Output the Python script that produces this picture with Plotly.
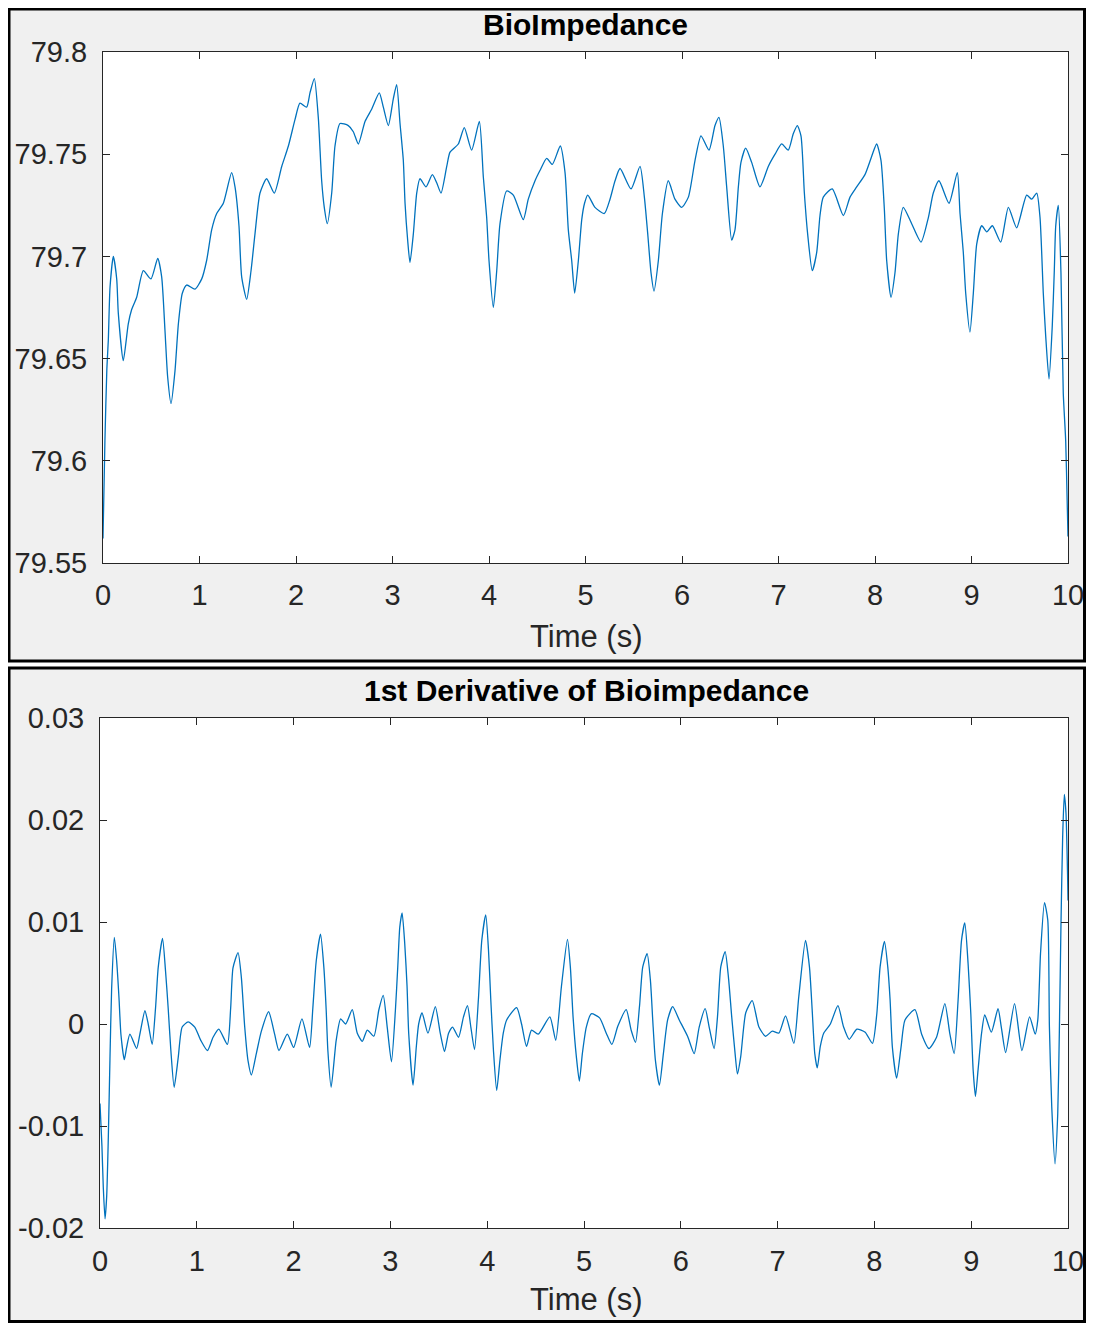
import plotly.graph_objects as go

# ---------------- data ----------------
bio_t = [0.0, 0.02, 0.04, 0.055, 0.073, 0.107, 0.142, 0.159, 0.21, 0.262, 0.297, 0.349, 0.418, 0.497, 0.567,
         0.608, 0.642, 0.670, 0.705, 0.746, 0.781, 0.822, 0.867, 0.953, 1.023, 1.074, 1.126, 1.178, 1.247,
         1.333, 1.368, 1.409, 1.437, 1.489, 1.534, 1.575, 1.627, 1.696, 1.775, 1.852, 1.921, 1.99, 2.041,
         2.11, 2.145, 2.19, 2.231, 2.266, 2.293, 2.324, 2.37, 2.404, 2.456, 2.542, 2.594, 2.646, 2.715,
         2.784, 2.863, 2.905, 2.957, 3.008, 3.043, 3.078, 3.112, 3.13, 3.157, 3.181, 3.216, 3.251, 3.285,
         3.347, 3.413, 3.458, 3.503, 3.562, 3.596, 3.682, 3.744, 3.82, 3.9, 3.941, 3.976, 4.0, 4.045, 4.08,
         4.114, 4.183, 4.252, 4.355, 4.407, 4.477, 4.528, 4.598, 4.656, 4.739, 4.788, 4.822, 4.857, 4.888,
         4.926, 4.961, 4.99, 5.023, 5.098, 5.195, 5.254, 5.306, 5.358, 5.472, 5.565, 5.61, 5.645, 5.679,
         5.71, 5.755, 5.797, 5.858, 5.927, 5.997, 6.066, 6.135, 6.197, 6.28, 6.342, 6.383, 6.428, 6.463,
         6.515, 6.549, 6.584, 6.611, 6.66, 6.722, 6.808, 6.894, 6.964, 7.033, 7.101, 7.153, 7.195, 7.233,
         7.268, 7.302, 7.35, 7.396, 7.43, 7.464, 7.557, 7.672, 7.741, 7.81, 7.896, 7.966, 8.017, 8.062,
         8.097, 8.121, 8.166, 8.207, 8.242, 8.293, 8.38, 8.477, 8.553, 8.604, 8.663, 8.767, 8.853, 8.881,
         8.915, 8.94, 8.984, 9.019, 9.054, 9.106, 9.158, 9.216, 9.303, 9.382, 9.468, 9.572, 9.624, 9.676,
         9.71, 9.744, 9.769, 9.803, 9.837, 9.858, 9.873, 9.9, 9.927, 9.951, 9.976, 9.992, 10.0]
bio_z = [79.562, 79.61, 79.645, 79.659, 79.685, 79.700, 79.689, 79.672, 79.649, 79.667, 79.674, 79.680, 79.693,
         79.689, 79.699, 79.690, 79.664, 79.641, 79.628, 79.644, 79.667, 79.682, 79.686, 79.684, 79.689,
         79.698, 79.713, 79.721, 79.726, 79.741, 79.734, 79.715, 79.690, 79.679, 79.693, 79.711, 79.731,
         79.738, 79.731, 79.744, 79.754, 79.767, 79.775, 79.773, 79.780, 79.787, 79.768, 79.737, 79.724,
         79.716, 79.731, 79.754, 79.765, 79.764, 79.761, 79.755, 79.766, 79.772, 79.780, 79.773, 79.764,
         79.777, 79.784, 79.765, 79.747, 79.726, 79.708, 79.697, 79.711, 79.731, 79.738, 79.734, 79.740,
         79.736, 79.731, 79.744, 79.751, 79.755, 79.763, 79.752, 79.766, 79.739, 79.719, 79.698, 79.675,
         79.693, 79.716, 79.732, 79.730, 79.718, 79.728, 79.737, 79.742, 79.748, 79.745, 79.754, 79.741,
         79.713, 79.698, 79.682, 79.698, 79.718, 79.726, 79.730, 79.724, 79.721, 79.728, 79.737, 79.743,
         79.733, 79.744, 79.729, 79.711, 79.692, 79.683, 79.698, 79.721, 79.737, 79.728, 79.724, 79.729,
         79.747, 79.759, 79.752, 79.764, 79.768, 79.754, 79.734, 79.708, 79.713, 79.734, 79.746, 79.753,
         79.746, 79.734, 79.744, 79.750, 79.755, 79.752, 79.760, 79.764, 79.759, 79.731, 79.711, 79.693,
         79.702, 79.720, 79.729, 79.733, 79.720, 79.729, 79.734, 79.740, 79.749, 79.755, 79.747, 79.723,
         79.698, 79.680, 79.692, 79.711, 79.724, 79.716, 79.707, 79.719, 79.731, 79.737, 79.726, 79.741,
         79.721, 79.702, 79.682, 79.663, 79.682, 79.706, 79.715, 79.712, 79.715, 79.707, 79.724, 79.714,
         79.730, 79.728, 79.731, 79.719, 79.682, 79.661, 79.640, 79.666, 79.693, 79.715, 79.725, 79.692,
         79.633, 79.610, 79.579, 79.563]

der_t = [0.0, 0.02, 0.034, 0.052, 0.069, 0.086, 0.103, 0.12, 0.148, 0.172, 0.196, 0.216, 0.251, 0.275, 0.309,
         0.378, 0.412, 0.464, 0.498, 0.539, 0.574, 0.601, 0.646, 0.677, 0.704, 0.732, 0.766, 0.808, 0.849,
         0.911, 0.979, 1.041, 1.11, 1.168, 1.227, 1.316, 1.35, 1.374, 1.426, 1.46, 1.495, 1.529, 1.564,
         1.615, 1.667, 1.742, 1.804, 1.849, 1.935, 2.0, 2.086, 2.165, 2.199, 2.234, 2.278, 2.313, 2.337,
         2.354, 2.388, 2.44, 2.486, 2.538, 2.606, 2.658, 2.71, 2.761, 2.829, 2.881, 2.926, 2.967, 3.011,
         3.052, 3.076, 3.097, 3.121, 3.148, 3.172, 3.189, 3.234, 3.268, 3.292, 3.327, 3.388, 3.464, 3.515,
         3.559, 3.601, 3.642, 3.704, 3.755, 3.796, 3.831, 3.869, 3.909, 3.944, 3.985, 4.013, 4.037, 4.064,
         4.098, 4.132, 4.166, 4.201, 4.304, 4.355, 4.406, 4.458, 4.527, 4.647, 4.708, 4.767, 4.829, 4.859,
         4.887, 4.921, 4.952, 4.983, 5.024, 5.075, 5.161, 5.23, 5.288, 5.35, 5.436, 5.487, 5.532, 5.573,
         5.607, 5.652, 5.686, 5.71, 5.737, 5.779, 5.82, 5.864, 5.916, 5.984, 6.07, 6.138, 6.19, 6.252,
         6.293, 6.344, 6.379, 6.413, 6.458, 6.492, 6.526, 6.561, 6.585, 6.619, 6.671, 6.738, 6.807, 6.876,
         6.945, 7.013, 7.082, 7.168, 7.219, 7.288, 7.329, 7.357, 7.384, 7.41, 7.441, 7.476, 7.545, 7.623,
         7.682, 7.74, 7.819, 7.905, 7.98, 8.025, 8.059, 8.104, 8.138, 8.162, 8.186, 8.23, 8.275, 8.316,
         8.419, 8.488, 8.563, 8.642, 8.728, 8.78, 8.824, 8.865, 8.9, 8.934, 8.968, 8.996, 9.02, 9.044,
         9.071, 9.106, 9.14, 9.208, 9.277, 9.311, 9.356, 9.448, 9.524, 9.603, 9.661, 9.688, 9.716, 9.757,
         9.791, 9.808, 9.832, 9.866, 9.894, 9.911, 9.928, 9.945, 9.962, 9.979, 9.996, 10.0]
der_v = [-0.0078, -0.012, -0.016, -0.0191, -0.0169, -0.0111, -0.0034, 0.0034, 0.0085, 0.0062, 0.0026, -0.001,
         -0.0035, -0.0023, -0.001, -0.0024, -0.001, 0.0013, 0.0, -0.002, 0.0016, 0.0055, 0.0084, 0.0052,
         0.0016, -0.0026, -0.0062, -0.0033, -0.0003, 0.0002, -0.0003, -0.0016, -0.0026, -0.0013, -0.0005,
         -0.002, 0.0016, 0.0055, 0.007, 0.0046, -0.0003, -0.0036, -0.005, -0.0029, -0.0007, 0.0012, -0.001,
         -0.0026, -0.001, -0.0023, 0.0005, -0.0023, 0.0016, 0.0062, 0.0088, 0.0055, 0.0013, -0.0026, -0.0062,
         -0.0016, 0.0005, 0.0, 0.0014, -0.0009, -0.0017, -0.0006, -0.0012, 0.0014, 0.0028, -0.0003, -0.0037,
         0.0014, 0.0056, 0.0095, 0.0109, 0.0079, 0.0037, -0.0009, -0.006, -0.0022, 0.0, 0.0011, -0.0009,
         0.0017, -0.0009, -0.0027, -0.0009, -0.0003, -0.0013, 0.0007, 0.0018, -0.0003, -0.0025, 0.0024,
         0.0082, 0.0107, 0.0073, 0.0024, -0.0025, -0.0065, -0.0035, -0.0009, 0.0004, 0.0016, 0.0, -0.0022,
         -0.0006, -0.001, 0.0007, -0.0016, 0.0037, 0.0083, 0.0056, 0.0007, -0.0032, -0.0056, -0.0029, -0.0003,
         0.001, 0.0006, -0.0009, -0.002, -0.0002, 0.0014, -0.0006, -0.0018, 0.0017, 0.0056, 0.0069, 0.0043,
         0.0004, -0.0035, -0.006, -0.0029, 0.0004, 0.0017, 0.0004, -0.0012, -0.0029, -0.0003, 0.0015, -0.0003,
         -0.0024, 0.0007, 0.0056, 0.0071, 0.0046, 0.0007, -0.0029, -0.0049, -0.0032, 0.0011, 0.0023, -0.0003,
         -0.0012, -0.0007, -0.0009, 0.0008, -0.0019, 0.0027, 0.0082, 0.0056, 0.0014, -0.0029, -0.0043,
         -0.0022, -0.0009, 0.0, 0.0018, -0.0003, -0.0015, -0.0005, -0.0008, -0.0019, 0.001, 0.0056, 0.0081,
         0.0056, 0.0024, -0.0023, -0.0053, -0.0023, 0.0004, 0.0014, -0.001, -0.0024, -0.0013, 0.002, -0.001,
         -0.0029, 0.0024, 0.0082, 0.0099, 0.0059, 0.001, -0.0045, -0.0071, -0.0045, -0.001, 0.0009, -0.0008,
         0.0015, -0.0003, -0.0028, 0.002, -0.0026, 0.0007, -0.001, 0.0004, 0.0069, 0.0119, 0.0102, -0.0003,
         -0.0081, -0.0137, -0.0088, -0.0006, 0.0101, 0.0184, 0.0225, 0.0207, 0.0144, 0.0121]

x_ticks = [0, 1, 2, 3, 4, 5, 6, 7, 8, 9, 10]
bio_yticks = [79.55, 79.6, 79.65, 79.7, 79.75, 79.8]
bio_ytext = ["79.55", "79.6", "79.65", "79.7", "79.75", "79.8"]
der_yticks = [-0.02, -0.01, 0, 0.01, 0.02, 0.03]
der_ytext = ["-0.02", "-0.01", "0", "0.01", "0.02", "0.03"]

title_top = "BioImpedance"
title_bottom = "1st Derivative of Bioimpedance"
xlabel = "Time (s)"

# ---------------- layout helpers (page pixel -> paper) ----------------
# the html body adds an 8 px margin on every side; size the figure so the page does not scroll
OFF = 8
W, H = 1094 - 2 * OFF, 1331 - 2 * OFF
def px(x):
    return (x - OFF) / W
def py(y):
    return 1 - (y - OFF) / H

LINE = "#0072BD"
AX = "#262626"
FONT = "Liberation Sans, Arial, Helvetica, sans-serif"

fig = go.Figure()
fig.add_trace(go.Scatter(x=bio_t, y=bio_z, mode="lines", line=dict(color=LINE, width=1.3, shape="spline", smoothing=0.6),
                         xaxis="x", yaxis="y", showlegend=False))
fig.add_trace(go.Scatter(x=der_t, y=der_v, mode="lines", line=dict(color=LINE, width=1.3, shape="spline", smoothing=0.6),
                         xaxis="x2", yaxis="y2", showlegend=False))

axis_common = dict(showline=True, linecolor=AX, linewidth=1, mirror="allticks", ticks="inside",
                   ticklen=7, tickcolor=AX, tickwidth=1, showgrid=False, zeroline=False, automargin=False,
                   ticklabeloverflow="allow",
                   tickfont=dict(family=FONT, size=29, color=AX), fixedrange=True)

# plot-area page-pixel boxes (x0, x1, y0, y1)
top_box = (103, 1068, 52, 563)
bot_box = (100, 1068, 718, 1228)

fig.update_layout(
    width=W, height=H,
    margin=dict(l=0, r=0, t=0, b=0, pad=0, autoexpand=False),
    paper_bgcolor="white",
    plot_bgcolor="rgba(0,0,0,0)",
    xaxis=dict(domain=[px(top_box[0]), px(top_box[1])], range=[0, 10], tickvals=x_ticks,
               anchor="y", ticklabelstandoff=6, **axis_common),
    yaxis=dict(domain=[py(top_box[3]), py(top_box[2])], range=[79.55, 79.8], tickvals=bio_yticks,
               ticktext=bio_ytext, anchor="x", ticklabelstandoff=9, **axis_common),
    xaxis2=dict(domain=[px(bot_box[0]), px(bot_box[1])], range=[0, 10], tickvals=x_ticks,
                anchor="y2", ticklabelstandoff=7, **axis_common),
    yaxis2=dict(domain=[py(bot_box[3]), py(bot_box[2])], range=[-0.02, 0.03], tickvals=der_yticks,
                ticktext=der_ytext, anchor="x2", ticklabelstandoff=9, **axis_common),
)

shapes = []
# figure frames (gray panels with black border)
for (y0, y1) in [(9, 661), (668, 1321.5)]:
    shapes.append(dict(type="rect", xref="paper", yref="paper", x0=px(9), x1=px(1084.5), y0=py(y1), y1=py(y0),
                       fillcolor="#F0F0F0", line=dict(color="black", width=3), layer="below"))
# white plot areas
for (x0, x1, y0, y1) in [top_box, bot_box]:
    shapes.append(dict(type="rect", xref="paper", yref="paper", x0=px(x0), x1=px(x1), y0=py(y1), y1=py(y0),
                       fillcolor="white", line=dict(width=0), layer="below"))
fig.update_layout(shapes=shapes)

ann = []
def label(text, x, y, size, bold=False, color=AX):
    t = f"<b>{text}</b>" if bold else text
    ann.append(dict(text=t, x=px(x), y=py(y), xref="paper", yref="paper", showarrow=False,
                    xanchor="center", yanchor="middle", font=dict(family=FONT, size=size, color=color)))

label(title_top, 585.5, 25, 30, bold=True, color="black")
label(xlabel, 586, 636, 31)
label(title_bottom, 586, 690, 30, bold=True, color="black")
label(xlabel, 586, 1299, 31)
fig.update_layout(annotations=ann)

fig.write_html("out.html")
